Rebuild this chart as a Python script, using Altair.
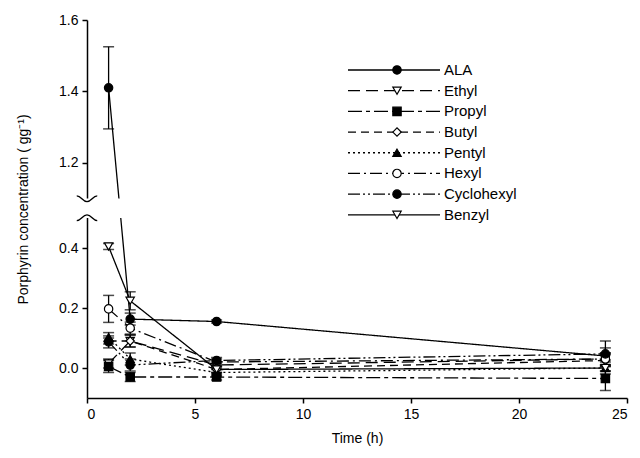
import altair as alt
import pandas as pd

# ---------------- data ----------------
times = [1, 2, 6, 24]
series = ["ALA", "Ethyl", "Propyl", "Butyl", "Pentyl", "Hexyl", "Cyclohexyl", "Benzyl"]

ala_v = [1.41, 0.163, 0.155, 0.04]
ethyl_v = [0.015, 0.09, 0.01, 0.03]
propyl_v = [0.005, -0.03, -0.03, -0.035]
butyl_v = [0.09, 0.09, -0.005, 0.025]
pentyl_v = [0.103, 0.03, -0.015, 0.0]
hexyl_v = [0.197, 0.133, 0.02, 0.03]
cyclohexyl_v = [0.087, 0.01, 0.025, 0.047]
benzyl_v = [0.405, 0.224, -0.005, 0.0]

ala_e = [0.115, 0.02, 0.005, 0.05]
ethyl_e = [0.015, 0.02, 0.01, 0.02]
propyl_e = [0.02, 0.015, 0.01, 0.04]
butyl_e = [0.01, 0.02, 0.01, 0.02]
pentyl_e = [0.015, 0.02, 0.01, 0.02]
hexyl_e = [0.045, 0.02, 0.01, 0.02]
cyclohexyl_e = [0.02, 0.02, 0.01, 0.02]
benzyl_e = [0.01, 0.03, 0.01, 0.01]

values = [ala_v, ethyl_v, propyl_v, butyl_v, pentyl_v, hexyl_v, cyclohexyl_v, benzyl_v]
errors = [ala_e, ethyl_e, propyl_e, butyl_e, pentyl_e, hexyl_e, cyclohexyl_e, benzyl_e]

x_ticks = [0, 5, 10, 15, 20, 25]
y_ticks_low = [0.0, 0.2, 0.4]
y_ticks_high = [1.2, 1.4, 1.6]

# styles
shapes = ["circle", "triangle-down", "square", "diamond", "triangle-up", "circle", "circle", "triangle-down"]
fills = ["black", "white", "black", "white", "black", "white", "black", "white"]
dashes = [[1, 0], [12, 6], [14, 4, 4, 4], [8, 5], [2, 3], [12, 4, 2, 4], [12, 3, 2, 3, 2, 3], [1, 0]]

# broken axis geometry (display units)
LOW_TOP = 0.5      # top of lower segment
HIGH_BOT = 1.1     # bottom of upper segment
GAP = 0.065        # display gap
HIGH_K = 1.19      # stretch of upper segment


def fwd(v):
    return v if v < 0.8 else LOW_TOP + GAP + (v - HIGH_BOT) * HIGH_K


def expr(f):
    return f"{f} < 0.8 ? {f} : {LOW_TOP + GAP} + ({f} - {HIGH_BOT}) * {HIGH_K}"


rows = []
for s, vs, es in zip(series, values, errors):
    for t, v, e in zip(times, vs, es):
        rows.append(dict(series=s, t=t, v=v, e=e))
df = pd.DataFrame(rows)

FONT = "Liberation Sans"

ytick_vals = [fwd(v) for v in y_ticks_low + y_ticks_high]
label_expr = (f"datum.value > 0.55 ? format((datum.value - {LOW_TOP + GAP}) / {HIGH_K} + {HIGH_BOT}, '.1f')"
              f" : format(datum.value, '.1f')")

xscale = alt.Scale(domain=[0, 25], nice=False, zero=False)
yscale = alt.Scale(domain=[-0.1, fwd(1.6)], nice=False, zero=False)

xaxis = alt.Axis(values=x_ticks, title="Time (h)", tickSize=5, labelPadding=4, titlePadding=10,
                 labelFontSize=14, titleFontSize=14, format="d")
yaxis = alt.Axis(values=ytick_vals, labelExpr=label_expr, title="Porphyrin concentration ( gg\u207b\u00b9)",
                 tickSize=5, labelPadding=4, titlePadding=28, labelFontSize=14, titleFontSize=14)

shape_enc = alt.Shape("series:N", scale=alt.Scale(domain=series, range=shapes), legend=None)
fill_enc = alt.Fill("series:N", scale=alt.Scale(domain=series, range=fills), legend=None)
dash_enc = alt.StrokeDash("series:N", scale=alt.Scale(domain=series, range=dashes), legend=None)

base = (alt.Chart(df)
        .transform_calculate(lo="datum.v - datum.e", hi="datum.v + datum.e")
        .transform_calculate(d=expr("datum.v"), dlo=expr("datum.lo"), dhi=expr("datum.hi")))

X = alt.X("t:Q", scale=xscale, axis=xaxis)

lines = base.mark_line(color="black", strokeWidth=1.3).encode(
    x=X, y=alt.Y("d:Q", scale=yscale, axis=yaxis), strokeDash=dash_enc)

err = base.mark_rule(color="black", strokeWidth=1.3).encode(
    x=alt.X("t:Q"), y=alt.Y("dlo:Q"), y2="dhi:Q")
cap_hi = base.mark_tick(color="black", thickness=1.5, size=11, orient="horizontal").encode(
    x=alt.X("t:Q"), y=alt.Y("dhi:Q"))
cap_lo = base.mark_tick(color="black", thickness=1.5, size=11, orient="horizontal").encode(
    x=alt.X("t:Q"), y=alt.Y("dlo:Q"))

pts = base.mark_point(filled=True, size=70, stroke="black", strokeWidth=1.2, opacity=1).encode(
    x=alt.X("t:Q"), y=alt.Y("d:Q"), shape=shape_enc, fill=fill_enc)

# white mask for the axis break
gap_df = pd.DataFrame({"x": [-1.2], "x2": [3.0], "y": [LOW_TOP], "y2": [LOW_TOP + GAP]})
gap = alt.Chart(gap_df).mark_rect(color="white").encode(
    x="x:Q", x2="x2:Q", y="y:Q", y2="y2:Q")

# curly break marks on the axis
SMILE = "M-1,-0.25 C-0.55,-0.25 -0.45,0.3 0,0.3 C0.45,0.3 0.55,-0.25 1,-0.25"
FROWN = "M-1,0.25 C-0.55,0.25 -0.45,-0.3 0,-0.3 C0.45,-0.3 0.55,0.25 1,0.25"
brk_top = alt.Chart(pd.DataFrame({"x": [0], "y": [LOW_TOP + GAP]})).mark_point(
    shape=SMILE, size=420, filled=False, stroke="black", strokeWidth=1.3, opacity=1).encode(
    x="x:Q", y="y:Q")
brk_bot = alt.Chart(pd.DataFrame({"x": [0], "y": [LOW_TOP]})).mark_point(
    shape=FROWN, size=420, filled=False, stroke="black", strokeWidth=1.3, opacity=1).encode(
    x="x:Q", y="y:Q")

main = alt.layer(lines, err, cap_hi, cap_lo, pts, gap, brk_top, brk_bot)

# legend drawn as its own layer
leg_df = pd.DataFrame({"series": series, "idx": list(range(len(series)))})
leg_y = alt.Y("idx:Q", scale=alt.Scale(domain=[-2.415, 15.85], reverse=True, nice=False, zero=False), axis=None)
leg_base = alt.Chart(leg_df)
leg_line = leg_base.mark_rule(color="black", strokeWidth=1.3).encode(
    x=alt.value(261), x2=alt.value(353), y=leg_y, strokeDash=dash_enc)
leg_pt = leg_base.mark_point(filled=True, size=70, stroke="black", strokeWidth=1.2, opacity=1).encode(
    x=alt.value(310), y=leg_y, shape=shape_enc, fill=fill_enc)
leg_txt = leg_base.mark_text(align="left", baseline="middle", fontSize=15, font=FONT, color="black").encode(
    x=alt.value(357), y=leg_y, text="series:N")
legend = alt.layer(leg_line, leg_pt, leg_txt)

chart = (alt.layer(main, legend)
         .resolve_scale(y="independent")
         .properties(width=540, height=378, autosize=alt.AutoSizeParams(type="none"),
                     padding={"left": 79, "top": 12, "right": 5, "bottom": 52})
         .configure_view(stroke=None)
         .configure_axis(grid=False, domainColor="black", tickColor="black", labelColor="black",
                         titleColor="black", labelFont=FONT, titleFont=FONT, titleFontWeight="normal",
                         domainWidth=1.5, tickWidth=1.5))

chart.save("out.html", embed_options={"renderer": "svg", "actions": False})
